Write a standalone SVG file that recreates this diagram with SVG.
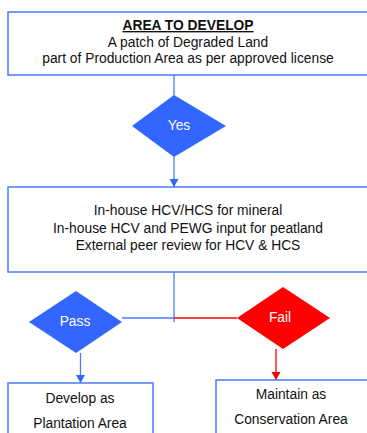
<svg xmlns="http://www.w3.org/2000/svg" width="367" height="433" viewBox="0 0 367 433">
<style>
.box{fill:#fff;stroke:#4a7bff;stroke-width:1.5}
.t{font-family:"Liberation Sans",Arial,sans-serif;font-size:13.8px;fill:#111;text-anchor:middle}
.dt{font-family:"Liberation Sans",Arial,sans-serif;font-size:13.8px;fill:#fff;text-anchor:middle}
.bl{stroke:#4a7bff;stroke-width:1.3;fill:none}
.rd{stroke:#ff0000;stroke-width:1.3;fill:none}
</style>
<defs>
<marker id="ab" markerWidth="10" markerHeight="10" refX="8" refY="4.5" orient="auto" markerUnits="userSpaceOnUse"><path d="M0,0 L8,4.5 L0,9 Z" fill="#3366ff"/></marker>
<marker id="ar" markerWidth="10" markerHeight="10" refX="8" refY="4.5" orient="auto" markerUnits="userSpaceOnUse"><path d="M0,0 L8,4.5 L0,9 Z" fill="#ff0000"/></marker>
</defs>
<rect width="367" height="433" fill="#fff"/>
<g id="connectors">
<line class="bl" x1="174" y1="75" x2="174" y2="96"/>
<line class="bl" x1="174" y1="157" x2="174" y2="187" marker-end="url(#ab)"/>
<line class="bl" x1="174" y1="272" x2="174" y2="322"/>
<line class="bl" x1="122" y1="318" x2="174" y2="318"/>
<line class="rd" x1="174" y1="318" x2="237" y2="318"/>
<line class="bl" x1="80.5" y1="353" x2="80.5" y2="383" marker-end="url(#ab)"/>
<line class="rd" x1="276" y1="349" x2="276" y2="380" marker-end="url(#ar)"/>
</g>
<g id="area">
<rect class="box" x="8" y="12" width="370" height="63"/>
<text class="t" x="188" y="30" font-weight="bold" text-decoration="underline" font-size="13.5">AREA TO DEVELOP</text>
<text class="t" x="188" y="47">A patch of Degraded Land</text>
<text class="t" x="188" y="63">part of Production Area as per approved license</text>
</g>
<g id="yes">
<polygon points="174,95 226,126 174,157 132,126" fill="#3366ff"/>
<text class="dt" x="179" y="130">Yes</text>
</g>
<g id="assess">
<rect class="box" x="8" y="187" width="370" height="85"/>
<text class="t" x="188" y="215">In-house HCV/HCS for mineral</text>
<text class="t" x="188" y="233">In-house HCV and PEWG input for peatland</text>
<text class="t" x="188" y="250">External peer review for HCV &amp; HCS</text>
</g>
<g id="pass">
<polygon points="76,291 122,322 76,353 29,322" fill="#3366ff"/>
<text class="dt" x="75" y="326">Pass</text>
</g>
<g id="fail">
<polygon points="283,287 330,318 283,349 237,318" fill="#ff0000"/>
<text class="dt" x="280" y="322">Fail</text>
</g>
<g id="develop">
<rect class="box" x="8" y="383" width="145" height="60"/>
<text class="t" x="80" y="403">Develop as</text>
<text class="t" x="80" y="428">Plantation Area</text>
</g>
<g id="maintain">
<rect class="box" x="216" y="380" width="160" height="60"/>
<text class="t" x="291" y="399">Maintain as</text>
<text class="t" x="291" y="424">Conservation Area</text>
</g>
</svg>
